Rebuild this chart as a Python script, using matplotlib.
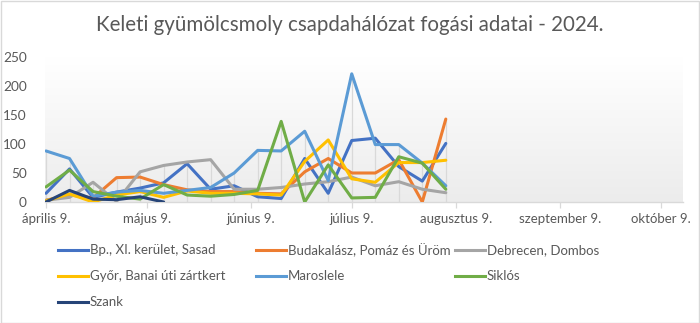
import numpy as np
import matplotlib
matplotlib.use("Agg")
import matplotlib.pyplot as plt
import matplotlib.dates as mdates
from matplotlib.colors import LinearSegmentedColormap
from matplotlib.lines import Line2D
from matplotlib.patches import Rectangle

plt.rcParams["font.family"] = ["Lato", "DejaVu Sans"]

# Weekly trap check dates
dates = np.array([
    "2024-04-09", "2024-04-16", "2024-04-23", "2024-04-30", "2024-05-07",
    "2024-05-14", "2024-05-21", "2024-05-28", "2024-06-04", "2024-06-11",
    "2024-06-18", "2024-06-25", "2024-07-02", "2024-07-09", "2024-07-16",
    "2024-07-23", "2024-07-30", "2024-08-06",
], dtype="datetime64[D]")

nan = np.nan
bp_sasad = [15, 57, 8, 17, 24, 33, 66, 22, 28, 9, 6, 75, 15, 106, 110, 61, 36, 101]
budakalasz = [3, 12, 7, 42, 43, 30, 21, 18, 18, 15, 14, 52, 75, 50, 50, 73, 0, 143]
debrecen = [3, 8, 34, 1, 52, 63, 69, 73, 22, 22, 25, 31, 35, 43, 28, 35, 22, 16]
gyor = [2, 14, 0, 12, 18, 8, 19, 15, 15, 14, 12, 70, 107, 40, 34, 68, 68, 72]
maroslele = [88, 75, 10, 17, 20, 15, 20, 25, 50, 89, 88, 122, 37, 221, 99, 99, 67, 28]
siklos = [26, 55, 18, 10, 5, 30, 12, 10, 13, 20, 139, 0, 64, 7, 8, 78, 67, 22]
szank = [0, 20, 5, 4, 9, 0, nan, nan, nan, nan, nan, nan, nan, nan, nan, nan, nan, nan]

series_names = [
    "Bp., XI. kerület, Sasad",
    "Budakalász, Pomáz és Üröm",
    "Debrecen, Dombos",
    "Győr, Banai úti zártkert",
    "Maroslele",
    "Siklós",
    "Szank",
]
series_values = [bp_sasad, budakalasz, debrecen, gyor, maroslele, siklos, szank]
series_colors = ["#4472C4", "#ED7D31", "#A5A5A5", "#FFC000", "#5B9BD5", "#70AD47", "#264478"]

tick_dates = np.array(["2024-04-09", "2024-05-09", "2024-06-09", "2024-07-09",
                       "2024-08-09", "2024-09-09", "2024-10-09"], dtype="datetime64[D]")
tick_labels = ["április 9.", "május 9.", "június 9.", "július 9.",
               "augusztus 9.", "szeptember 9.", "október 9."]
y_ticks = [0, 50, 100, 150, 200, 250]

W, H = 700, 323
text_color = "#595959"
line_gray = "#D9D9D9"

fig = plt.figure(figsize=(W / 100, H / 100), dpi=100)
fig.patch.set_facecolor("white")

# plot area in pixel units
left, right, top, bottom = 45, 683, 57, 202
ax = fig.add_axes([left / W, 1 - bottom / H, (right - left) / W, (bottom - top) / H])
ax.set_facecolor("none")

# soft vertical gradient behind the plot area
grad = np.linspace(0, 1, 256)[:, None]
cmap = LinearSegmentedColormap.from_list("bg", ["#ECECEC", "#FFFFFF"])
ax.imshow(grad, extent=[0, 1, 0, 1], transform=ax.transAxes, aspect="auto",
          cmap=cmap, origin="lower", zorder=0)

# drop lines from the highest value at each date down to the axis
vals = np.array(series_values, dtype=float)
top_vals = np.nanmax(vals, axis=0)
ax.vlines(dates, 0, top_vals, color=line_gray, lw=0.9, zorder=1)

for name, v, c in zip(series_names, series_values, series_colors):
    ax.plot(dates, v, color=c, lw=2.2, label=name, zorder=3,
            solid_joinstyle="round", solid_capstyle="round")

ax.set_xlim(mdates.date2num(dates[0]) - 0.3, mdates.date2num(dates[0]) + 189.6)
ax.set_ylim(0, 250)

ax.set_xticks(mdates.date2num(tick_dates))
ax.set_xticklabels(tick_labels)
ax.set_yticks(y_ticks)
ax.set_yticklabels([str(t) for t in y_ticks])

for s in ("top", "right", "left"):
    ax.spines[s].set_visible(False)
ax.spines["bottom"].set_color(line_gray)
ax.spines["bottom"].set_linewidth(1.0)
ax.spines["bottom"].set_zorder(2)

ax.tick_params(axis="x", direction="out", length=4, width=0.9, color=line_gray,
               labelsize=9.5, labelcolor=text_color, pad=4)
ax.tick_params(axis="y", length=0, labelsize=9.8, labelcolor=text_color, pad=13)

fig.text(0.5, 1 - 25 / H, "Keleti gyümölcsmoly csapdahálózat fogási adatai - 2024.",
         ha="center", va="center", fontsize=14.8, color=text_color)

# legend laid out in three columns below the plot
col_x = [58, 256, 455]
row_y = [250, 276, 302]
for i, (name, c) in enumerate(zip(series_names, series_colors)):
    r, k = divmod(i, 3)
    xh, yh = col_x[k], row_y[r]
    fig.add_artist(Line2D([xh / W, (xh + 30) / W], [1 - yh / H, 1 - yh / H],
                          color=c, lw=2.2, transform=fig.transFigure))
    fig.text((xh + 32) / W, 1 - yh / H, name, ha="left", va="center",
             fontsize=9.5, color=text_color)

# chart frame
fig.add_artist(Rectangle((0.5 / W, 0.5 / H), 1 - 1.5 / W, 1 - 1.5 / H,
                         transform=fig.transFigure, fill=False,
                         edgecolor=line_gray, lw=1.0))

fig.savefig("out.png", dpi=100)
